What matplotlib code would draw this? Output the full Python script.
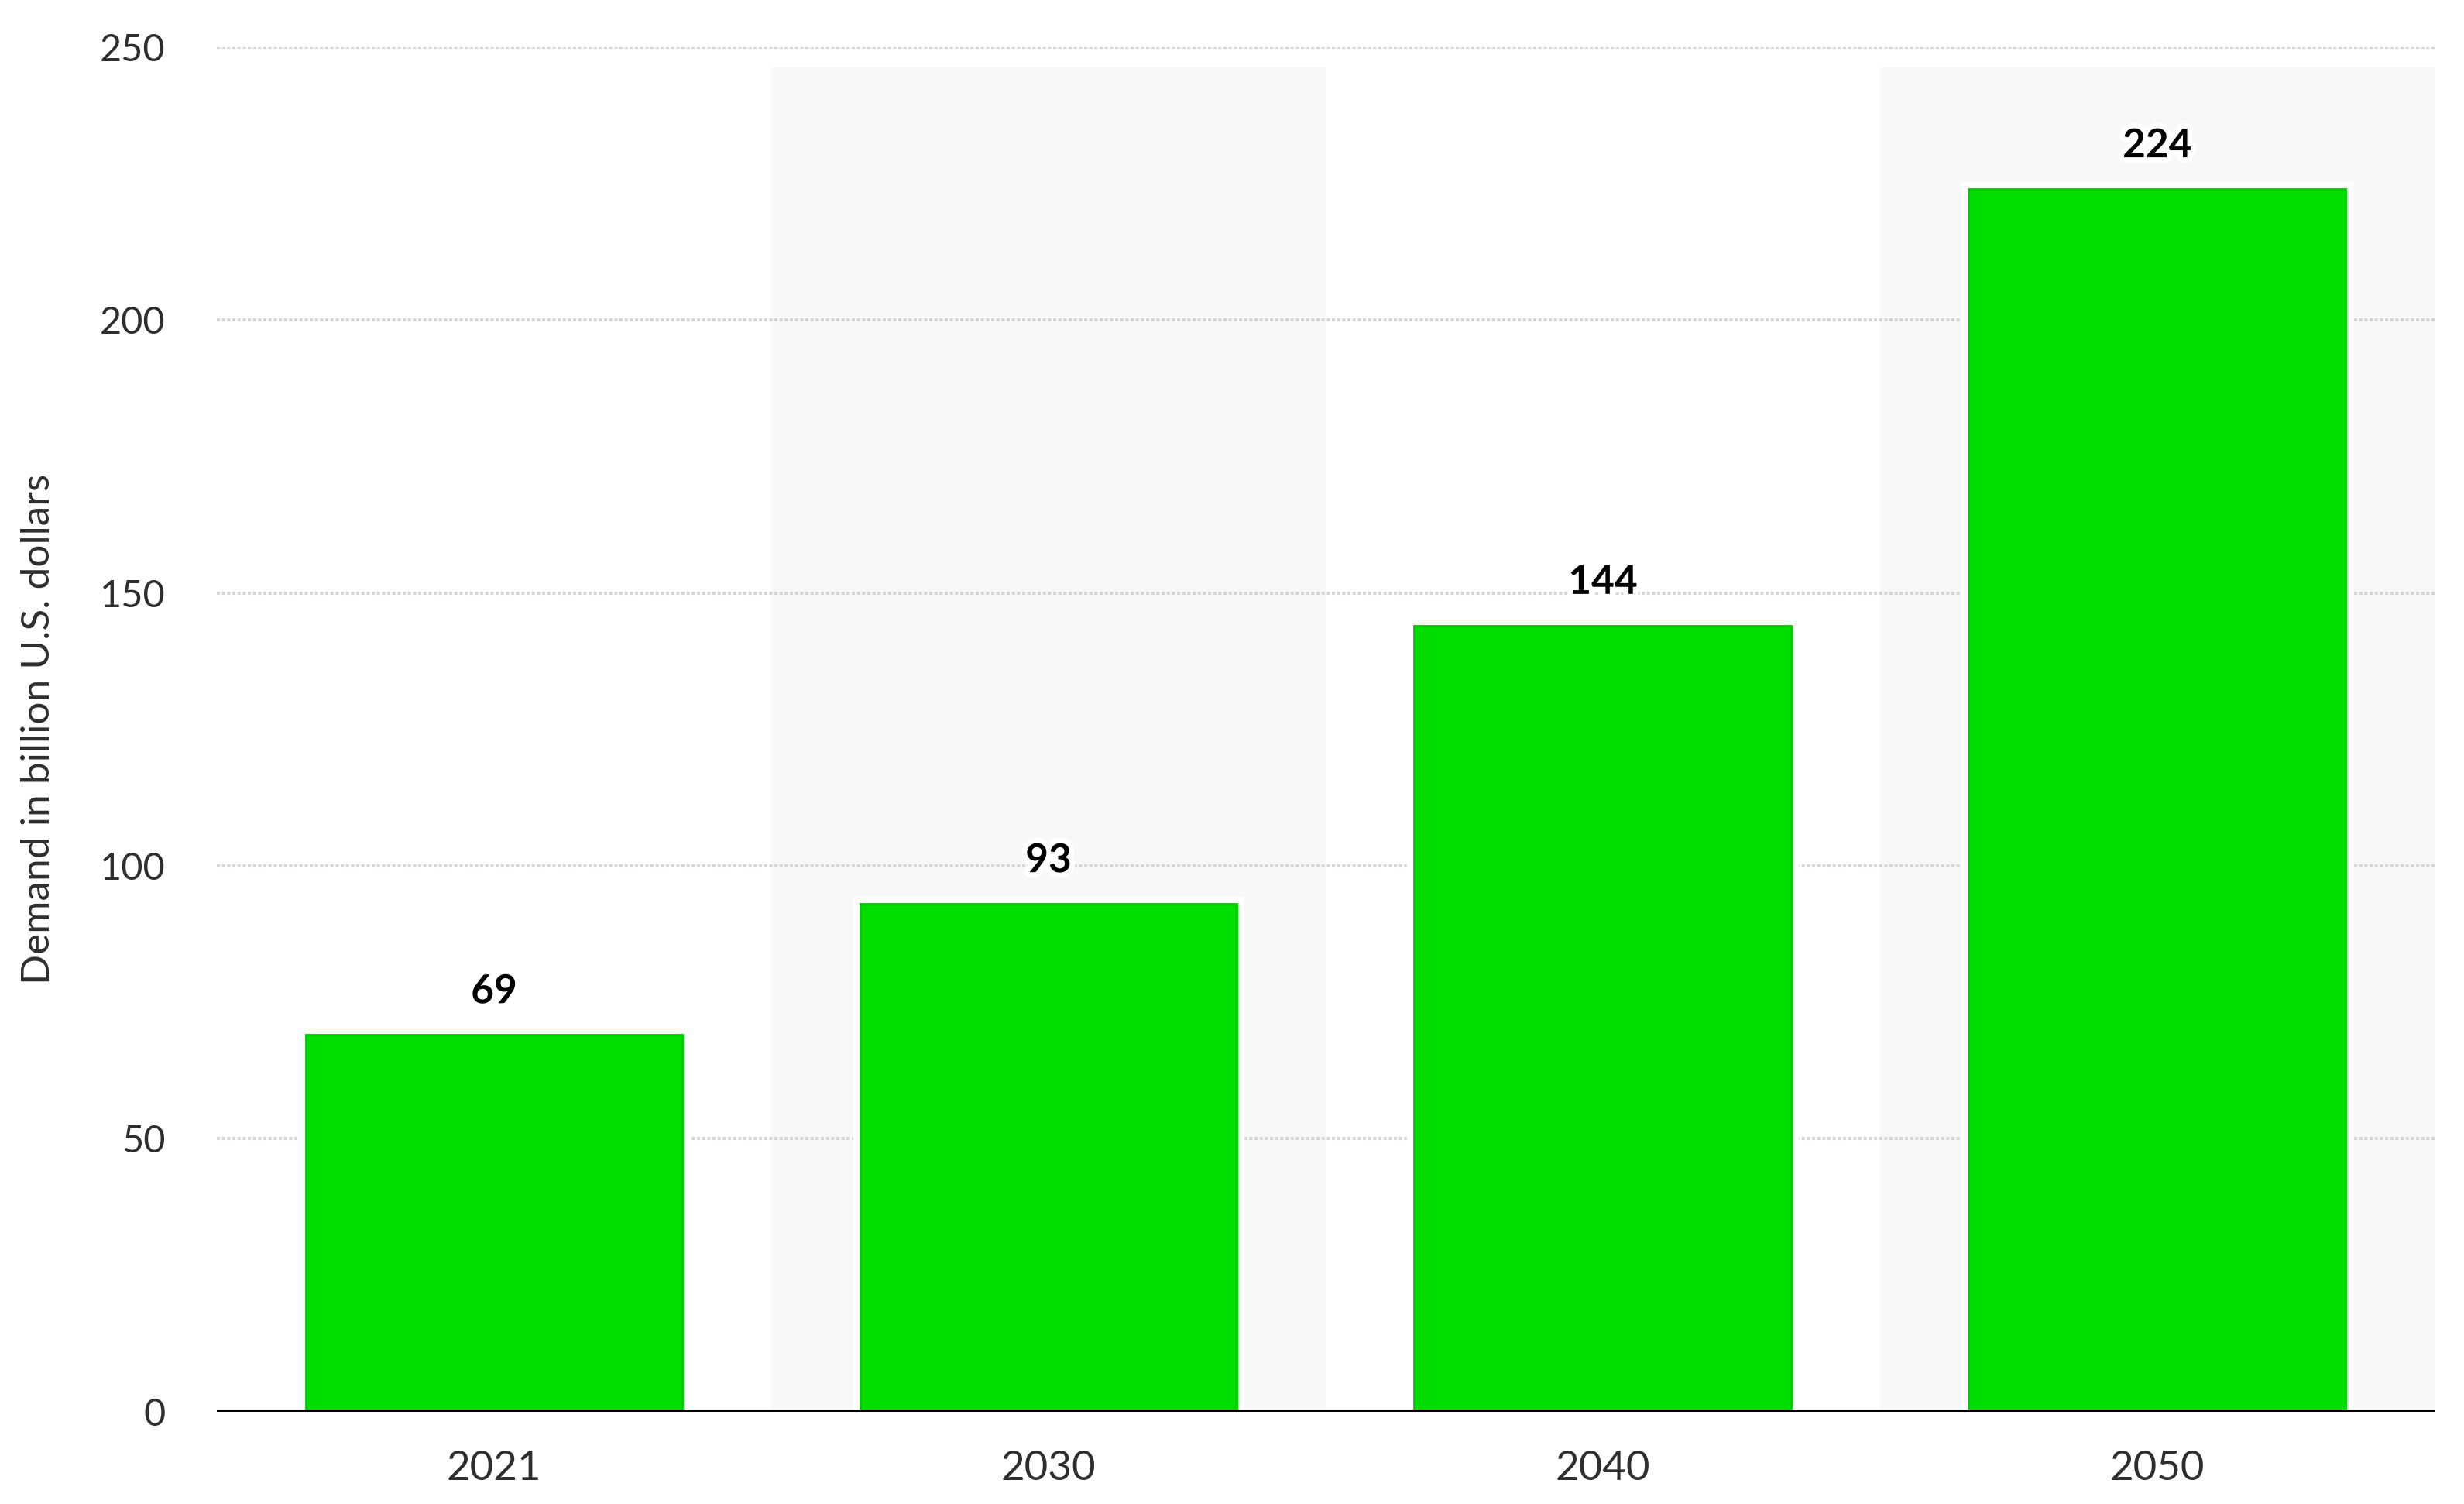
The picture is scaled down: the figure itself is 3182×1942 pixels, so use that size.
import matplotlib
matplotlib.use("Agg")
import matplotlib.pyplot as plt
import matplotlib.patheffects as pe
import numpy as np

# data
years = ["2021", "2030", "2040", "2050"]
demand = [69, 93, 144, 224]
y_ticks = [0, 50, 100, 150, 200, 250]

BAR_COLOR = "#00dd00"
plt.rcParams["font.family"] = ["Lato", "DejaVu Sans"]

fig = plt.figure(figsize=(31.82, 19.42), dpi=100)
ax = fig.add_axes([0.088, 0.0615, 0.900, 0.9071])

x = np.arange(len(years))

# alternating light bands behind every second column
for i in x[1::2]:
    ax.axvspan(i - 0.5, i + 0.5, ymax=0.985, color="#f8f8f8", zorder=0, lw=0)

for yv in y_ticks[1:]:
    ax.axhline(yv, color="#d6d6d6", lw=3, ls=(0, (1, 0.6)), zorder=1)

bars = ax.bar(x, demand, width=0.68, color=BAR_COLOR, edgecolor="#00c800",
              linewidth=2, zorder=2)
for b in bars:
    b.set_path_effects([pe.Stroke(linewidth=14, foreground="white"), pe.Normal()])

for xi, v in zip(x, demand):
    ax.annotate(f"{v}", (xi, v), xytext=(0, 40), textcoords="offset points",
                ha="center", va="center", fontsize=37, fontweight="bold",
                color="black", zorder=4,
                path_effects=[pe.withStroke(linewidth=10, foreground="white")])

ax.axhline(0, color="black", lw=5, zorder=3)

ax.set_xlim(-0.5, 3.5)
ax.set_ylim(0, 250)
ax.set_xticks(x)
ax.set_xticklabels(years)
ax.set_yticks(y_ticks)
ax.tick_params(axis="both", length=0, labelcolor="#2e2e2e")
ax.tick_params(axis="x", pad=36, labelsize=38)
ax.tick_params(axis="y", pad=48, labelsize=35)
for s in ax.spines.values():
    s.set_visible(False)

ax.set_ylabel("Demand in billion U.S. dollars", fontsize=37, color="#2e2e2e",
              labelpad=40)

fig.savefig("out.png", dpi=100, facecolor="white")
